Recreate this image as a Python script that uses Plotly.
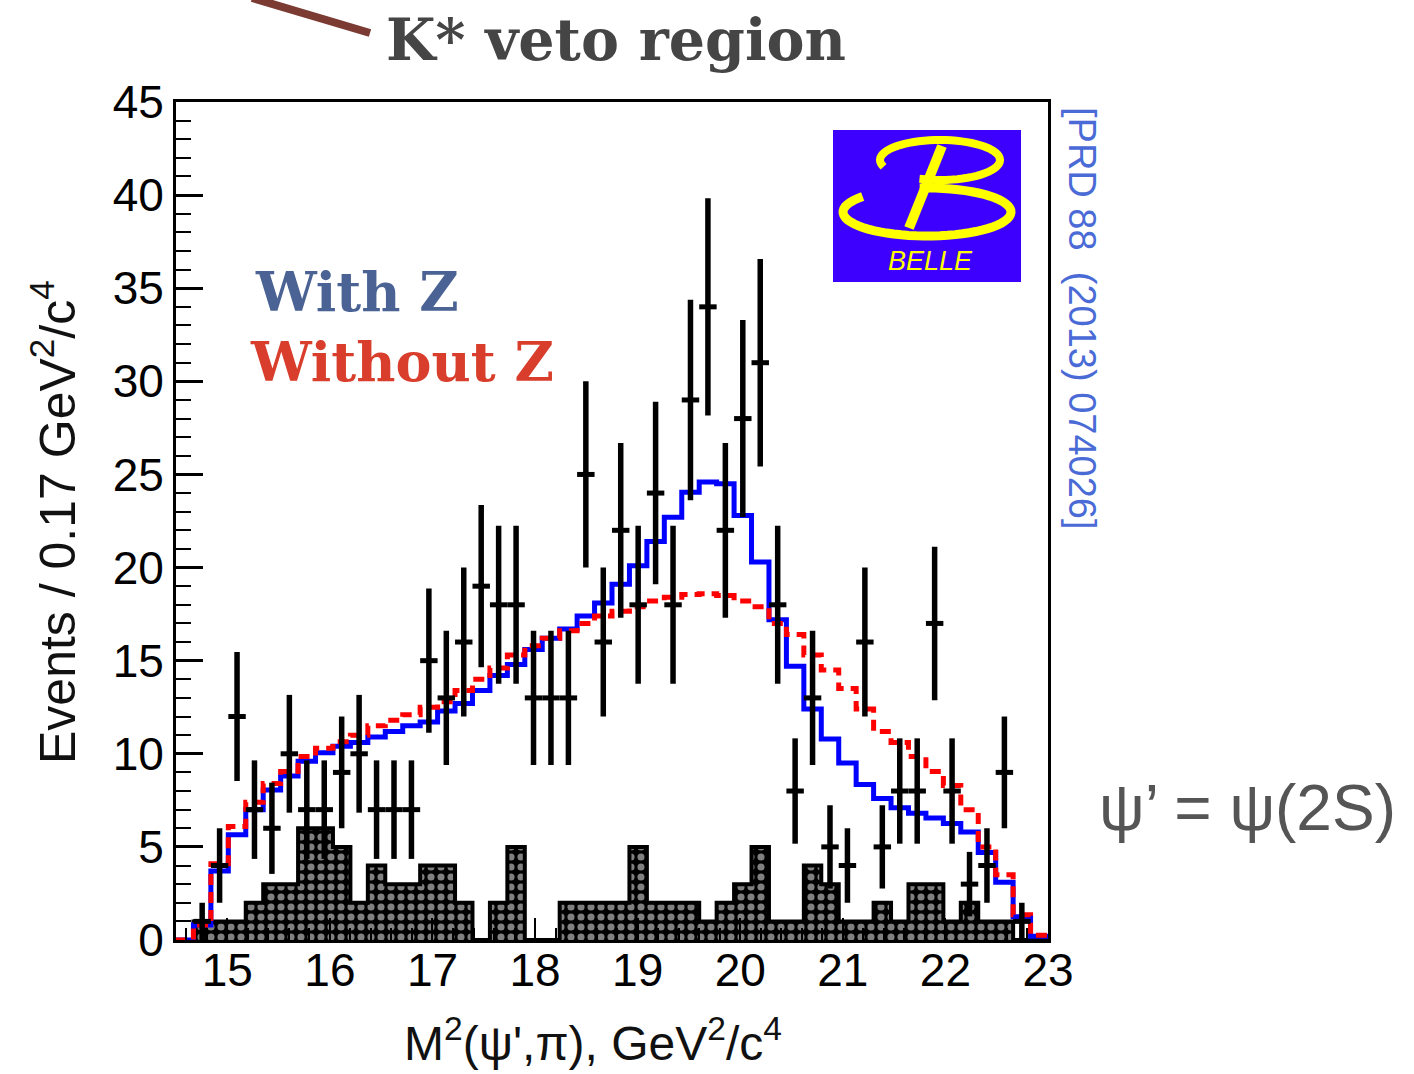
import numpy as np
import plotly.graph_objects as go

# ---------------- data ----------------
BIN_LO = 14.5
BIN_W = 0.17
N_BINS = 50

data_counts = [0, 1, 4, 12, 7, 6, 10, 7, 7, 9,
               10, 7, 7, 7, 15, 13, 16, 19, 18, 18,
               13, 13, 13, 25, 16, 22, 18, 24, 18, 29,
               34, 22, 28, 31, 18, 8, 13, 5, 4, 16,
               5, 8, 8, 17, 8, 3, 4, 9, 1, 0]

background = [0, 1, 1, 1, 2, 3, 3, 6, 6, 5,
              2, 4, 3, 3, 4, 4, 2, 0, 2, 5,
              0, 0, 2, 2, 2, 2, 5, 2, 2, 2,
              1, 2, 3, 5, 1, 1, 4, 3, 1, 1,
              2, 1, 3, 3, 1, 2, 1, 1, 0, 0]

fit_with_z = [0, 0.8, 3.7, 5.65, 7.0, 8.05, 8.8, 9.6, 10.05, 10.4,
              10.6, 10.9, 11.2, 11.5, 11.7, 12.3, 12.7, 13.4, 14.2, 14.8,
              15.6, 16.2, 16.7, 17.4, 18.1, 19.1, 20.1, 21.4, 22.7, 24.05,
              24.6, 24.5, 22.8, 20.3, 17.2, 14.7, 12.4, 10.8, 9.5, 8.35,
              7.6, 7.1, 6.8, 6.55, 6.25, 5.8, 4.7, 3.1, 1.25, 0.2]

fit_without_z = [0, 0.8, 4.1, 6.1, 7.4, 8.4, 9.05, 9.85, 10.3, 10.65,
                 11.0, 11.5, 11.8, 12.1, 12.5, 12.8, 13.4, 14.0, 14.6, 15.3,
                 15.8, 16.2, 16.6, 17.0, 17.4, 17.65, 17.9, 18.2, 18.4, 18.55,
                 18.6, 18.5, 18.2, 17.9, 17.0, 16.4, 15.3, 14.5, 13.5, 12.4,
                 11.2, 10.6, 9.85, 9.05, 8.3, 7.0, 5.0, 3.5, 1.35, 0.25]

x_tick_vals = [15, 16, 17, 18, 19, 20, 21, 22, 23]
y_tick_vals = [0, 5, 10, 15, 20, 25, 30, 35, 40, 45]

# ---------------- derived bins ----------------
edges = BIN_LO + BIN_W * np.arange(N_BINS + 1)
centers = BIN_LO + BIN_W * (np.arange(N_BINS) + 0.5)


def step_y(vals):
    return list(vals) + [vals[-1]]


# layout geometry (pixels)
W, H = 1414, 1074
L, R, T, B = 176, 1048, 102, 940


def px(x):
    return (x - L) / (R - L)


def py(y):
    return (B - y) / (B - T)


fig = go.Figure()

# background hatched histogram (black with white dots)
fig.add_trace(go.Bar(
    x=centers, y=background, width=BIN_W,
    marker=dict(color="black", line=dict(width=0),
                pattern=dict(shape=".", fgcolor="white", bgcolor="black",
                             size=10, solidity=0.4)),
    hoverinfo="skip", showlegend=False))
fig.add_trace(go.Scatter(
    x=edges, y=step_y(background), mode="lines", line_shape="hv",
    line=dict(color="black", width=4), showlegend=False, hoverinfo="skip"))

# fit with Z (blue) and without Z (red dashed)
fig.add_trace(go.Scatter(
    x=edges, y=step_y(fit_with_z), mode="lines", line_shape="hv",
    line=dict(color="#0000ff", width=5), showlegend=False))
fig.add_trace(go.Scatter(
    x=edges, y=step_y(fit_without_z), mode="lines", line_shape="hv",
    line=dict(color="#ff0000", width=5, dash="11px,7px"), showlegend=False))

# data points
ydata = [v if v > 0 else None for v in data_counts]
yerr = [np.sqrt(v) for v in data_counts]
fig.add_trace(go.Scatter(
    x=centers, y=ydata, mode="markers",
    marker=dict(size=1, color="black"),
    error_y=dict(type="data", array=yerr, visible=True, color="black",
                 thickness=5.5, width=0),
    error_x=dict(type="constant", value=BIN_W / 2, visible=True, color="black",
                 thickness=5, width=0),
    showlegend=False))

axis_font = dict(family="Liberation Sans, Arial, sans-serif", size=46, color="black")

fig.update_xaxes(
    range=[BIN_LO, BIN_LO + BIN_W * N_BINS], tickvals=x_tick_vals,
    ticks="inside", ticklen=22, tickwidth=2, tickcolor="black",
    minor=dict(dtick=0.2, tick0=15, ticks="inside", ticklen=12, tickwidth=2,
               tickcolor="black"),
    ticklabelstandoff=-12,
    showline=True, linecolor="black", linewidth=3, mirror=True,
    showgrid=False, zeroline=False, tickfont=axis_font)
fig.update_yaxes(
    range=[0, 45], tickvals=y_tick_vals,
    ticks="inside", ticklen=27, tickwidth=3, tickcolor="black",
    minor=dict(dtick=1, ticks="inside", ticklen=15, tickwidth=2, tickcolor="black"),
    showline=True, linecolor="black", linewidth=3, mirror=True,
    showgrid=False, zeroline=False, tickfont=axis_font)

annotations = [
    dict(text="Events / 0.17 GeV<sup>2</sup>/c<sup>4</sup>", x=px(54), y=py(522),
         textangle=-90, font=dict(family="Liberation Sans, Arial", size=50, color="#111")),
    dict(text="M<sup>2</sup>(ψ',π), GeV<sup>2</sup>/c<sup>4</sup>", x=px(593), y=py(1040),
         font=dict(family="Liberation Sans, Arial", size=48, color="#111")),
    dict(text="<b>K* veto region</b>", x=px(616), y=py(40),
         font=dict(family="DejaVu Serif", size=57, color="#454545")),
    dict(text="<b>With Z</b>", x=px(253), y=py(292), xanchor="left",
         font=dict(family="DejaVu Serif", size=54, color="#4a6394")),
    dict(text="<b>Without Z</b>", x=px(248), y=py(362), xanchor="left",
         font=dict(family="DejaVu Serif", size=54, color="#d83e2b")),
    dict(text="[PRD 88  (2013) 074026]", x=px(1082), y=py(318), textangle=90,
         font=dict(family="Liberation Sans, Arial", size=38, color="#4a6bd6")),
    dict(text="ψ’ = ψ(2S)", x=px(1247), y=py(808),
         font=dict(family="Liberation Sans, Arial", size=64, color="#555555")),
    dict(text="<i>BELLE</i>", x=px(930), y=py(261),
         font=dict(family="Liberation Sans, Arial", size=27, color="#ffff00")),
]
for a in annotations:
    a.setdefault("xanchor", "center")
    a.update(xref="paper", yref="paper", showarrow=False, yanchor="middle")
fig.update_layout(annotations=annotations)


def ellipse_path(cx, cy, rx, ry, t0, t1, n=60):
    ts = np.radians(np.linspace(t0, t1, n))
    pts = [(px(cx + rx * np.cos(t)), py(cy - ry * np.sin(t))) for t in ts]
    return "M " + " L ".join(f"{a:.5f},{b:.5f}" for a, b in pts)


shapes = [
    # pointer line at top
    dict(type="line", x0=px(252), y0=py(-2), x1=px(370), y1=py(33),
         line=dict(color="#7b3b33", width=8)),
    # Belle logo
    dict(type="rect", x0=px(833), y0=py(282), x1=px(1021), y1=py(130),
         fillcolor="#3d00ff", line=dict(width=0)),
    dict(type="path", path=ellipse_path(940, 160, 60, 20, 200, -110),
         line=dict(color="#ffff00", width=8)),
    dict(type="path", path=ellipse_path(927, 212, 84, 24, 140, 455),
         line=dict(color="#ffff00", width=9)),
    dict(type="line", x0=px(942), y0=py(146), x1=px(909), y1=py(228),
         line=dict(color="#ffff00", width=10)),
]
for s in shapes:
    s.update(xref="paper", yref="paper", layer="above")
fig.update_layout(shapes=shapes)

fig.update_layout(
    width=W, height=H,
    margin=dict(l=L, r=W - R, t=T, b=H - B),
    paper_bgcolor="white", plot_bgcolor="white",
    barmode="overlay", bargap=0, showlegend=False,
)

fig.write_html("out.html")
